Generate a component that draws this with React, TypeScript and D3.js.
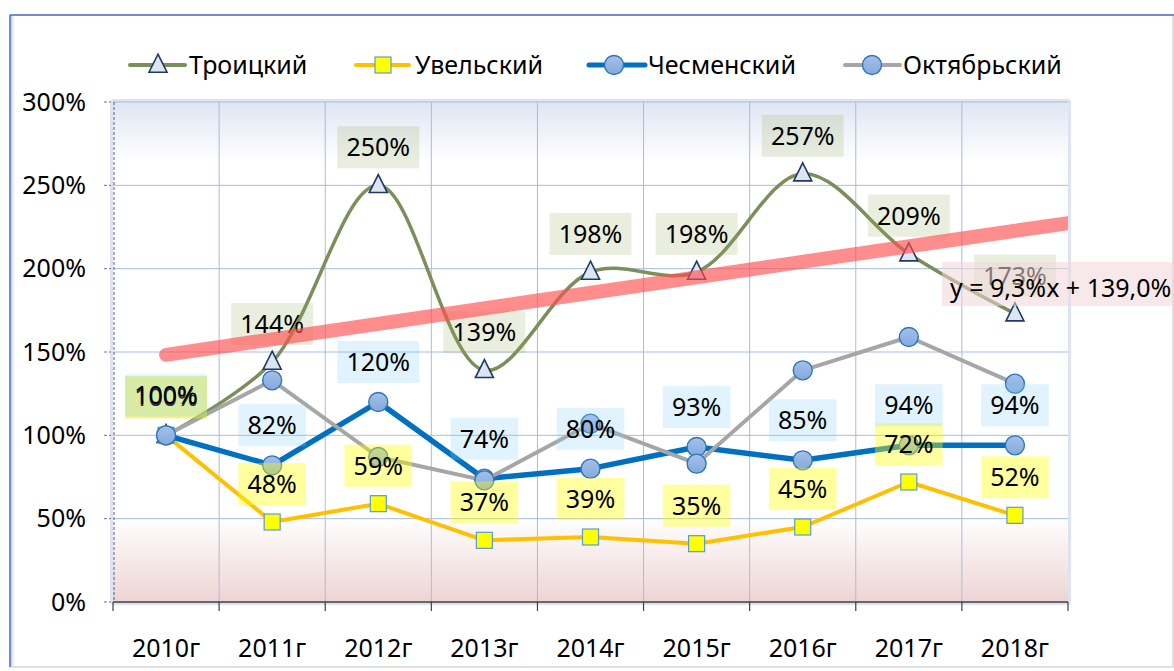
import React from 'react';
import * as d3 from 'd3';

const categories = ['2010г', '2011г', '2012г', '2013г', '2014г', '2015г', '2016г', '2017г', '2018г'];
const troitsky = [100, 144, 250, 139, 198, 198, 257, 209, 173];
const uvelsky = [100, 48, 59, 37, 39, 35, 45, 72, 52];
const chesmensky = [100, 82, 120, 74, 80, 93, 85, 94, 94];
const oktyabrsky = [100, 133, 87, 73, 107, 83, 139, 159, 131];
const yTicks = [0, 50, 100, 150, 200, 250, 300];
const seriesNames = ['Троицкий', 'Увельский', 'Чесменский', 'Октябрьский'];
const trendSlope = 9.3;
const trendIntercept = 139.0;
const trendLabel = 'y = 9,3%x + 139,0%';

const W = 1174;
const H = 671;
const PL = 113, PR = 1068, PT = 102, PB = 602;
const FONT = '"Noto Sans", "DejaVu Sans", sans-serif';
const FS = 25;

const OLIVE = '#7b8f5b';
const ORANGE = '#ffc000';
const BLUE = '#0070c0';
const GRAY = '#a6a6a6';

const x = d3.scaleBand<string>().domain(categories).range([PL, PR]).padding(0);
const bw = x.bandwidth();
const cx = (i: number) => (x(categories[i]) as number) + bw / 2;
const xi = d3.scaleLinear().domain([0.5, categories.length + 0.5]).range([PL, PR]);
const y = d3.scaleLinear().domain([0, 300]).range([PB, PT]);

const fmt = (v: number) => `${v}%`;
const textW = (s: string) => {
  let w = 0;
  for (const ch of s) w += ch === '%' ? 0.84 : 0.572;
  return w * FS;
};

function Triangle({ px, py }: { px: number; py: number }) {
  const s = 18;
  const h = 18;
  const p = `M${px},${py - h * 0.6} L${px + s / 2},${py + h * 0.4} L${px - s / 2},${py + h * 0.4} Z`;
  return <path d={p} fill="#dce6f2" stroke="#1f3864" strokeWidth={1.6} />;
}
function Square({ px, py }: { px: number; py: number }) {
  return <rect x={px - 8} y={py - 8} width={16} height={16} fill="#ffff00" stroke="#5b9bd5" strokeWidth={1.2} />;
}
function Circle({ px, py }: { px: number; py: number }) {
  return <circle cx={px} cy={py} r={9.5} fill="url(#circGrad)" stroke="#2e75b6" strokeWidth={1.4} />;
}

export default function App() {
  const lineStraight = d3.line<number>().x((_, i) => cx(i)).y((d) => y(d));
  const lineSmooth = d3.line<number>().x((_, i) => cx(i)).y((d) => y(d)).curve(d3.curveCatmullRom.alpha(0.5));

  const labelSets = [
    { data: troitsky, fill: 'rgba(150,170,90,0.2)', dy: -38 },
    { data: uvelsky, fill: 'rgba(255,255,0,0.38)', dy: -38 },
    { data: chesmensky, fill: 'rgba(135,206,250,0.25)', dy: -40 },
  ];

  const legendItems = [
    { name: seriesNames[0], color: OLIVE, width: 4, x0: 130, x1: 185, mx: 158, tx: 189, marker: 'tri' },
    { name: seriesNames[1], color: ORANGE, width: 4, x0: 356, x1: 409, mx: 383, tx: 415, marker: 'sq' },
    { name: seriesNames[2], color: BLUE, width: 5, x0: 589, x1: 645, mx: 614, tx: 648, marker: 'circ' },
    { name: seriesNames[3], color: GRAY, width: 4, x0: 845, x1: 900, mx: 872, tx: 903, marker: 'circ' },
  ];
  const LY = 65;

  const trendX0 = 1;
  const trendX1 = categories.length + 0.5;

  return (
    <svg width={W} height={H} style={{ position: 'absolute', left: 0, top: 0, fontFamily: FONT }}>
      <defs>
        <linearGradient id="plotGrad" x1="0" y1="0" x2="0" y2="1">
          <stop offset="0" stopColor="#dfe6f3" />
          <stop offset="0.12" stopColor="#ffffff" />
          <stop offset="0.83" stopColor="#ffffff" />
          <stop offset="1" stopColor="#eed4d4" />
        </linearGradient>
        <linearGradient id="circGrad" x1="0" y1="0" x2="0" y2="1">
          <stop offset="0" stopColor="#a3c1ea" />
          <stop offset="1" stopColor="#84a9dc" />
        </linearGradient>
        <linearGradient id="shadowGrad" x1="0" y1="0" x2="1" y2="0">
          <stop offset="0" stopColor="#c8c8c8" />
          <stop offset="1" stopColor="#ffffff" stopOpacity="0" />
        </linearGradient>
        <clipPath id="plotClip">
          <rect x={PL} y={PT} width={PR - PL} height={PB - PT} />
        </clipPath>
      </defs>

      {/* chart frame */}
      <rect x={0} y={0} width={W} height={H} fill="#ffffff" />
      <rect x={10} y={15} width={1163} height={652} fill="#ffffff" stroke="#d6d6d6" strokeWidth={1.5} />
      <rect x={11} y={16} width={5} height={650} fill="url(#shadowGrad)" />
      <line x1={10} y1={15} x2={W} y2={15} stroke="#4a72d0" strokeWidth={1.5} />
      <line x1={10} y1={15} x2={10} y2={667} stroke="#4a72d0" strokeWidth={1.5} />

      {/* plot area */}
      <rect x={PL - 1} y={PT - 1} width={PR - PL + 2} height={PB - PT + 2} fill="none" stroke="#dde4ef" strokeWidth={4} rx={2} />
      <rect x={PL} y={PT} width={PR - PL} height={PB - PT} fill="url(#plotGrad)" />

      {/* grid */}
      {yTicks.filter((t) => t > 0).map((t) => (
        <line key={'gy' + t} x1={PL} x2={PR} y1={y(t)} y2={y(t)} stroke="#a9bcd9" strokeWidth={1} />
      ))}
      {categories.slice(1).map((c) => (
        <line key={'gx' + c} x1={x(c) as number} x2={x(c) as number} y1={PT} y2={PB} stroke="#a9bcd9" strokeWidth={1} />
      ))}

      {/* y axis */}
      <line x1={PL + 1} x2={PL + 1} y1={PT} y2={PB} stroke="#5a5a8a" strokeWidth={1} strokeDasharray="3,2" />
      {yTicks.map((t) => (
        <g key={'yt' + t}>
          <line x1={104} x2={111} y1={y(t)} y2={y(t)} stroke="#6a6a9a" strokeWidth={1} strokeDasharray="3,2" />
          <text x={86} y={y(t)} dy="0.35em" textAnchor="end" fontSize={FS} fill="#000">{fmt(t)}</text>
        </g>
      ))}

      {/* x axis */}
      <line x1={PL} x2={PR} y1={PB} y2={PB} stroke="#404040" strokeWidth={1.5} />
      {d3.range(categories.length + 1).map((k) => (
        <line key={'xt' + k} x1={PL + k * bw} x2={PL + k * bw} y1={PB} y2={PB + 9} stroke="#404040" strokeWidth={1.2} />
      ))}
      {categories.map((c, i) => (
        <text key={'xl' + c} x={cx(i)} y={657} textAnchor="middle" fontSize={FS} fill="#000">{c}</text>
      ))}

      {/* series */}
      <path d={lineSmooth(troitsky) || ''} fill="none" stroke={OLIVE} strokeWidth={3.5} />
      {troitsky.map((v, i) => <Triangle key={'t' + i} px={cx(i)} py={y(v)} />)}

      <path d={lineStraight(uvelsky) || ''} fill="none" stroke={ORANGE} strokeWidth={4} strokeLinejoin="round" />
      {uvelsky.map((v, i) => <Square key={'u' + i} px={cx(i)} py={y(v)} />)}

      <path d={lineStraight(chesmensky) || ''} fill="none" stroke={BLUE} strokeWidth={5.5} strokeLinejoin="round" />
      {chesmensky.map((v, i) => <Circle key={'c' + i} px={cx(i)} py={y(v)} />)}

      <path d={lineStraight(oktyabrsky) || ''} fill="none" stroke={GRAY} strokeWidth={4} strokeLinejoin="round" />
      {oktyabrsky.map((v, i) => <Circle key={'o' + i} px={cx(i)} py={y(v)} />)}

      {/* data labels */}
      {labelSets.map((set, si) =>
        set.data.map((v, i) => {
          const s = fmt(v);
          const tw = textW(s);
          const bwid = tw + 18;
          const bh = 42;
          const lx = cx(i);
          const ly = y(v) + set.dy;
          return (
            <g key={`lab${si}-${i}`}>
              <rect x={lx - bwid / 2} y={ly - bh / 2} width={bwid} height={bh} fill={set.fill} />
              <text x={lx} y={ly} dy="0.36em" textAnchor="middle" fontSize={FS} fill="#000">{s}</text>
            </g>
          );
        })
      )}

      {/* trendline */}
      <g clipPath="url(#plotClip)">
        <line
          x1={xi(trendX0)}
          y1={y(trendIntercept + trendSlope * trendX0)}
          x2={xi(trendX1)}
          y2={y(trendIntercept + trendSlope * trendX1)}
          stroke="#ff5050"
          strokeOpacity={0.65}
          strokeWidth={14}
          strokeLinecap="round"
        />
      </g>

      {/* trend label */}
      <rect x={942} y={262} width={240} height={44} fill="rgba(240,215,215,0.55)" />
      <text x={950} y={297} fontSize={FS} fill="#000">{trendLabel}</text>

      {/* legend */}
      {legendItems.map((it) => (
        <g key={'lg' + it.name}>
          <line x1={it.x0} x2={it.x1} y1={LY} y2={LY} stroke={it.color} strokeWidth={it.width} strokeLinecap="round" />
          {it.marker === 'tri' && <Triangle px={it.mx} py={LY} />}
          {it.marker === 'sq' && <Square px={it.mx} py={LY} />}
          {it.marker === 'circ' && <Circle px={it.mx} py={LY} />}
          <text x={it.tx} y={LY} dy="0.36em" fontSize={FS} fill="#000">{it.name}</text>
        </g>
      ))}
    </svg>
  );
}
